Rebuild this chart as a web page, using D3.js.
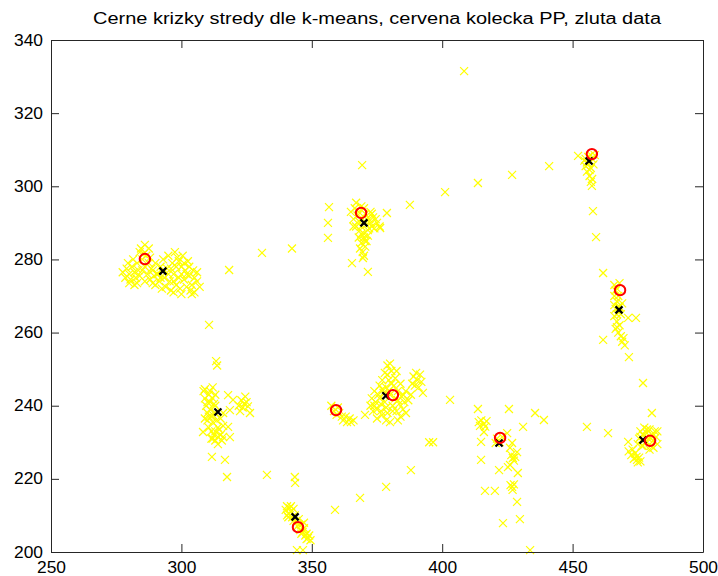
<!DOCTYPE html>
<html lang="en">
  <head>
    <meta charset="UTF-8" />
    <title>k-means stredy</title>
    <script src="https://d3js.org/d3.v7.min.js"></script>
    <style>
      body { margin: 0; background: #fff; }
      svg { display: block; }
      .tick text { font-family: "Liberation Sans", Arial, sans-serif; font-size: 16px; fill: #000; }
      .axis path, .axis line { stroke: #262626; }
    </style>
  </head>
  <body>
    <script>
      // yellow data points (x, y)
      const dataPoints = [
        // left cluster
        [277.5,276.5],[278.5,275],[279,277.5],[280,276],[280.5,274.5],[281,278],[282,276.5],[282.5,275],
        [283,279],[283.5,277],[284,282],[284.5,283],[285,280],[285.5,281.5],[286,278],[287,276],
        [287.5,279],[288,274.5],[289,277],[289.5,275.5],[290,273],[291,276],[291.5,274],[292,278],
        [293,280],[293.5,275],[294,272.5],[294.5,277.5],[295,281],[295.5,274],[296,271.5],[296.5,279],
        [297,276],[297.5,282],[298,273],[298.5,280.5],[299,275],[299.5,272],[300,278],[300.5,281],
        [301,274.5],[301.5,277],[302,272.5],[302.5,279.5],[303,275.5],[304,273],[304.5,277],[305,271],
        [306,274],[307,272.5],[304,270.5],[318.3,277.1],[283,273.5],[286,274],[286,284],[287.5,283],
        [279.5,279],[281.5,280],[280,273.5],[282,273],[284,275.5],[285,277],[286.5,281],[288,280.5],
        [288.5,277.5],[290,279],[290.5,276],[292,275],[293,277],[295,276],[296,277.5],[297,274],
        [298,278],[299,279.5],[300,276],[301,279],[302,276],[303,278],[305,275],[303.5,271.5],
        [306,276.5],[300,270.5],[297,271],[292.5,272],[289,273.5],
        // cluster around 314,238
        [308.5,244],[309,242],[309.5,240],[310,238],[310,236],[310.5,243],[311,241],[311,239],
        [311.5,237],[312,245],[312,235.5],[312.5,240.5],[313,238],[313,243],[313.5,236],[309,236.5],
        [310.5,234],[311.5,233],[312.5,232],[313,230.5],[314,231.5],[314.5,233.5],[315,232],[315.5,230.5],
        [312,231],[316,234.5],[317.9,242.9],[319.8,241.6],[318.6,238.8],[317.9,234.2],[318.6,231.4],[308.3,232.8],
        [322,240],[323,241.5],[324,240.5],[325,241],[325.5,239.8],[323.5,239.5],[326.3,238],[311.7,226],
        [316.7,225.2],[317.5,220.5],[332.8,221.1],[310.6,262.1],[313.3,252.2],[313.7,251],[330.9,281.8],[342.4,283],
        [315,236.5],[316,238],[309,244.5],[310,241],[311,244],[312,242],[313,240],[312,237.5],
        [310.5,237],[314,234],[313,233],[311.5,231],[316,231.5],[314,229.5],[324.5,242.5],[322.5,238.5],
        // top middle cluster
        [365,293],[366,291],[366.5,294],[367,289],[367.5,292],[368,290.5],[368.5,288],[369,294.5],
        [369.5,291],[370,287],[370.5,292.5],[371,289.5],[371.5,288],[372,291],[372.5,293],[373,289],
        [373.5,291.5],[374,288.5],[375,290],[376,289],[368,286],[369,284.5],[370,286],[370.5,283.5],
        [369.5,282],[370,281],[371,285],[368.5,283],[356.6,294.3],[356.2,290],[356.2,285.9],[365.4,279],
        [371.5,276.6],[369.6,280.4],[378.8,292.7],[387.6,294.9],[376.2,288.6],[369.3,305.8],
        [366,289],[367,295.5],[368,293],[370,294],[371,291],[372,288.5],[373,292.5],[374.5,291],
        [369,289],[370.5,285],[369,287],[371.5,286.5],[372.5,290],
        [401.1,298.4],[413.7,300.9],[426.8,303.1],[441,305.5],[452.1,308.3],[408.4,331.5],
        // bottom cluster
        [340,211.5],[340.5,212.5],[341,210.5],[341.5,212],[342,211],[342.5,209.5],[343,211.8],[343.5,210],
        [344,208.5],[344.5,207],[345,209],[345.5,206],[346,207.5],[346.5,205.5],[347,206.5],[347.5,204.5],
        [348,205],[348.5,203.8],[349,204.5],[349.5,203.2],[341,209.5],[343.6,218.9],[358.9,211.5],[368.5,214.8],
        [340.5,210],[342,212.5],[343,208.5],[345,207.5],[346,205],[347,208],[348,203.5],
        [344.3,200.5],[346.6,200.5],[343.5,220.5],[378.5,217.8],[388,222.4],[395,230],[396.5,230],
        // middle cluster
        [372.5,240],[373,242],[373.5,238.5],[374,244],[374.5,241],[375,239],[375.5,243],[376,245.5],
        [376.5,240.5],[377,247],[377,237.5],[377.5,243.5],[378,249],[378,241],[378.5,245],[379,251],
        [379,238],[379.5,247],[380,243],[380.5,249.5],[381,240],[381.5,245.5],[382,242],[382,247.5],
        [382.5,238.5],[383,244],[383.5,240.5],[384,246],[384.5,242.5],[385,239],[386,244],[386.1,238],
        [384,237],[387,241.5],[388.5,246],[389,248],[389.5,245.5],[390,249],[390.5,247],[391,245],
        [391.5,248.5],[392,246.5],[392.6,243.5],[403,241.6],[370.4,237.5],[378.5,236],[380,235.5],
        [374,240],[376,242],[377,244.5],[378.5,239.5],[379.5,244],[380.5,246],[381,238.5],[383,241.5],
        [385,243],[382.5,249.5],[380,251.5],[379,248.5],[385.5,241],[388,243],[376.5,238.5],[375,236.5],
        [383,236],
        [357.5,240],[358.5,238.5],[359.5,237.5],[360.5,238],[361.5,237],[362,236],[363,237],[363.5,235.5],
        [364.5,236.5],[365,235.5],[366,236],[360,239.5],
        // right middle cluster
        [413.7,239.1],[425.6,239.1],[435.6,238],[439,236.1],[414,235.5],[415,236],[416,235],[414.5,234.5],
        [416.5,234.3],[417,235.8],[416,232.8],[431,234.2],[414.9,230.1],[424.9,232.5],[423,231.5],[421,231],
        [422,230],[420.5,229.8],[426.8,229.8],[426,228.5],[428.7,227.3],[427.1,225.7],[426.5,226.5],[428,226],
        [427.5,225],[426,223.8],[414.9,225.2],[421.8,222.4],[429,221.6],[425.2,223.2],[426.8,217.8],[427.5,218.5],
        [426.2,218.3],[427,217],[416.4,216.7],[420.2,216.7],[428.7,213.7],[423.3,207.9],[429.8,209],[433.7,200.5],
        // top right
        [454.5,307],[455,305.5],[455.5,306.5],[456,308],[457,305],[457.5,307.5],[458,306],[458.5,308.5],
        [456.5,304.5],[455.5,304],[456.5,302.8],[457.5,302],[457,301.2],[457.4,300.1],[457.8,293.2],[459,286.1],
        [455,307.5],[457,308.5],[456,306],[461.7,276.3],
        // right
        [466,273],[467,272],[468,273.5],[466,270],[467,268.5],[466.5,266.5],[467.5,267],[468.5,265],
        [466,264.5],[467,263],[468,262],[466.5,261],[467.5,260],[468.5,259],[469,257.5],[469.5,258.5],
        [470,256.5],[471.3,264],[474.3,264],[461.7,258],[471.6,253.3],[477,246.2],[480.4,238],[469,268],
        [466.5,271.5],[467.5,270],[466,267.5],[467,265],[468,267],[467,261.5],
        // bottom right
        [475.5,231],[476,233],[477,232],[477.5,234],[478,230],[478.5,232.5],[479,231],[479.5,233.5],
        [480,229],[480.5,232],[481,230.5],[481.5,233],[482,231.5],[482.5,229.5],[476.5,229],[475,229.5],
        [477,229],[478.5,233.5],[480,231],[481,228.5],[476,231.5],[479.5,228],[482.5,233],
        [471.5,227.5],[472.5,226.5],[473,228],[473.5,225.5],[474,227],[474.5,226],[475,224.5],[475.5,225.8],
        [476,224.8],[455.5,234.2],[463.6,232.5],[471.3,230.1],[474.7,225.2]
      ];

      // black crosses: k-means centres
      const centers = [
        [292.9,276.8],[314.0,238.3],[370.0,290.0],[378.4,242.7],[343.6,209.6],
        [421.8,229.8],[456.3,306.9],[467.8,266.2],[477.0,230.6]
      ];

      // red circles: PP
      const ppPoints = [
        [286.0,280.1],[359.3,238.8],[368.9,292.7],[381.1,242.9],[344.7,206.8],
        [422.2,231.2],[457.4,308.8],[468.2,271.6],[479.7,230.4]
      ];

      const xTicks = [250, 300, 350, 400, 450, 500];
      const yTicks = [200, 220, 240, 260, 280, 300, 320, 340];
      const title = "Cerne krizky stredy dle k-means, cervena kolecka PP, zluta data";

      const W = 718, H = 576;
      const margin = { left: 51, top: 40 };
      const w = 652, h = 512;

      const svg = d3.select("body").append("svg").attr("width", W).attr("height", H);
      const g = svg.append("g").attr("transform", `translate(${margin.left},${margin.top})`);

      const x = d3.scaleLinear().domain([250, 500]).range([0, w]);
      const y = d3.scaleLinear().domain([200, 340]).range([h, 0]);

      // data
      function cross(sel, s) {
        return sel.attr("d", d => {
          const cx = x(d[0]), cy = y(d[1]);
          return `M${cx - s},${cy - s}L${cx + s},${cy + s}M${cx - s},${cy + s}L${cx + s},${cy - s}`;
        });
      }

      g.append("g").selectAll("path").data(dataPoints).join("path")
        .call(cross, 4)
        .attr("stroke", "#ffff00").attr("stroke-width", 1.2).attr("fill", "none");

      g.append("g").selectAll("path").data(centers).join("path")
        .call(cross, 3.5)
        .attr("stroke", "#000").attr("stroke-width", 2.2).attr("fill", "none");

      g.append("g").selectAll("circle").data(ppPoints).join("circle")
        .attr("cx", d => x(d[0])).attr("cy", d => y(d[1])).attr("r", 5.2)
        .attr("stroke", "#ff0000").attr("stroke-width", 2).attr("fill", "none");

      // axes (box with inward ticks)
      g.append("g").attr("class", "axis").attr("transform", `translate(0,${h})`)
        .call(d3.axisBottom(x).tickValues(xTicks).tickSizeInner(-8).tickSizeOuter(0).tickPadding(10));
      g.append("g").attr("class", "axis")
        .call(d3.axisTop(x).tickValues(xTicks).tickSizeInner(-8).tickSizeOuter(0).tickFormat(""));
      g.append("g").attr("class", "axis")
        .call(d3.axisLeft(y).tickValues(yTicks).tickSizeInner(-8).tickSizeOuter(0).tickPadding(8));
      g.append("g").attr("class", "axis").attr("transform", `translate(${w},0)`)
        .call(d3.axisRight(y).tickValues(yTicks).tickSizeInner(-8).tickSizeOuter(0).tickFormat(""));

      g.selectAll(".tick text").attr("textLength", 29).attr("lengthAdjust", "spacingAndGlyphs");

      svg.append("text")
        .attr("x", margin.left + w / 2).attr("y", 24)
        .attr("text-anchor", "middle")
        .attr("font-family", "Liberation Sans, Arial, sans-serif")
        .attr("font-size", 16)
        .attr("textLength", 568).attr("lengthAdjust", "spacingAndGlyphs")
        .text(title);
    </script>
  </body>
</html>
